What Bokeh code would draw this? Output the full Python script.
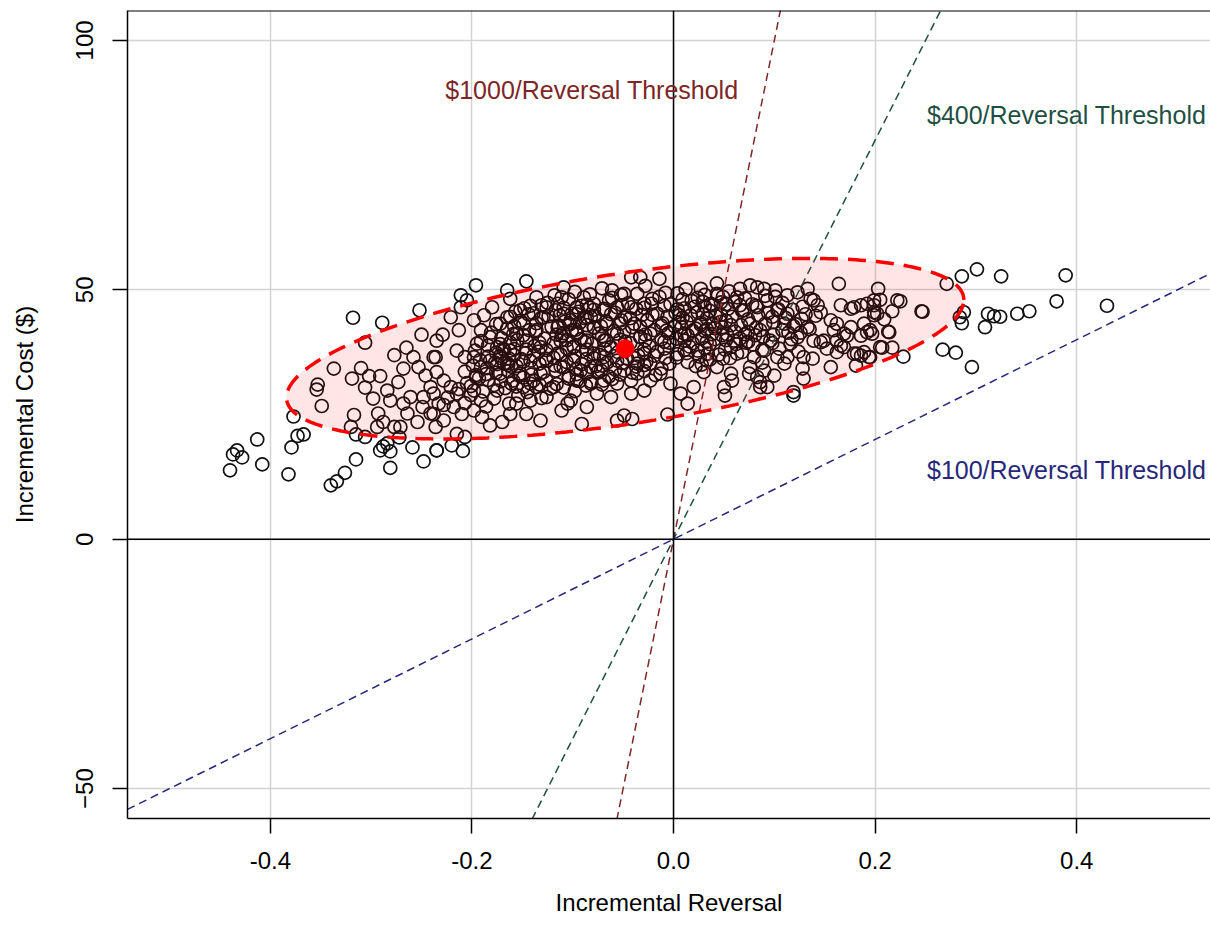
import numpy as np
from bokeh.plotting import figure
from bokeh.models import Span, FixedTicker, Label, Range1d
from bokeh.embed import file_html
from bokeh.resources import INLINE

# ---- bootstrap samples (incremental reversal, incremental cost)
tail_left = [(-0.318,44.4),(-0.289,43.4),(-0.252,45.9),(-0.250,41.0),(-0.306,39.4),(-0.277,36.9),(-0.265,38.4),(-0.337,34.2),(-0.310,34.3),(-0.319,32.2),(-0.302,32.7),(-0.291,32.7),(-0.306,30.4),(-0.353,31.0),(-0.354,30.0),(-0.349,26.7),(-0.377,24.6),(-0.317,24.9),(-0.320,22.5),(-0.315,21.0),(-0.306,20.5),(-0.373,20.7),(-0.367,21.0),(-0.379,18.4),(-0.413,20.0),(-0.433,17.8),(-0.437,17.0),(-0.428,16.4),(-0.408,15.0),(-0.440,13.8),(-0.382,13.0),(-0.315,16.0),(-0.326,13.3),(-0.334,11.6),(-0.340,10.8),(-0.291,17.8),(-0.288,18.6),(-0.284,19.2),(-0.281,17.6),(-0.281,14.3),(-0.259,18.4),(-0.248,15.6),(-0.235,17.8),(-0.272,20.4),(-0.277,22.5),(-0.294,22.5),(-0.288,23.5),(-0.298,28.2),(-0.293,25.2),(-0.281,27.8),(-0.268,27.2),(-0.264,25.2),(-0.271,22.5),(-0.254,23.5),(-0.261,28.5),(-0.248,28.5),(-0.284,29.8),(-0.273,31.5),(-0.268,34.2),(-0.258,36.5),(-0.253,34.5),(-0.246,32.8),(-0.241,30.5),(-0.249,26.5),(-0.241,25.2),(-0.238,36.5),(-0.235,39.8),(-0.236,22.5)]

left_center = [(-0.196,50.9),(-0.146,51.7),(-0.211,48.9),(-0.205,47.9),(-0.211,46.5),(-0.165,49.9),(-0.162,48.2),(-0.221,44.5),(-0.229,41.0),(-0.213,41.9),(-0.215,37.8),(-0.207,36.5),(-0.236,36.5),(-0.235,33.5),(-0.228,31.8),(-0.221,30.5),(-0.215,29.2),(-0.238,29.2),(-0.233,27.2),(-0.218,26.5),(-0.210,25.1),(-0.238,25.1),(-0.228,23.8),(-0.215,21.1),(-0.207,20.5),(-0.235,17.8),(-0.220,18.8),(-0.209,17.7),(-0.198,43.9),(-0.188,44.9),(-0.180,46.5),(-0.191,41.9),(-0.195,39.2),(-0.198,36.5),(-0.191,34.5),(-0.196,32.5),(-0.198,29.8),(-0.191,27.8),(-0.198,25.8),(-0.190,24.5),(-0.182,22.8),(-0.170,23.5),(-0.162,25.1),(-0.156,27.2),(-0.146,25.1),(-0.132,23.8),(-0.142,27.8),(-0.136,30.5),(-0.126,28.5),(-0.111,25.8),(-0.105,27.2),(-0.102,27.8),(-0.091,23.1),(-0.086,26.5),(-0.076,29.2),(-0.062,28.5),(-0.056,23.8),(-0.049,24.8),(-0.041,24.1),(-0.069,31.8),(-0.042,31.8),(-0.029,29.8),(-0.036,33.2),(-0.082,31.2),(-0.096,31.8),(-0.119,30.5),(-0.142,31.2),(-0.149,30.5),(-0.159,31.8),(-0.175,29.8),(-0.172,33.2),(-0.182,35.8),(-0.168,35.2),(-0.162,37.8),(-0.175,38.5),(-0.182,40.5),(-0.172,43.2),(-0.165,44.5),(-0.152,45.9),(-0.149,43.2),(-0.156,41.2),(-0.146,39.8),(-0.142,35.8),(-0.152,33.2),(-0.132,33.2),(-0.126,35.8),(-0.132,38.5),(-0.136,41.9),(-0.129,44.5),(-0.126,46.5),(-0.136,48.5),(-0.109,50.5),(-0.115,47.2),(-0.109,45.2),(-0.115,42.5),(-0.112,39.8),(-0.115,37.2),(-0.109,34.5),(-0.099,35.8),(-0.092,33.8),(-0.099,38.5),(-0.096,41.2),(-0.102,43.9),(-0.096,46.5),(-0.089,48.5),(-0.079,47.2),(-0.086,44.5),(-0.079,42.5),(-0.086,39.8),(-0.079,37.2),(-0.082,34.5),(-0.072,33.8),(-0.069,36.5),(-0.069,39.8),(-0.066,43.2),(-0.069,45.9),(-0.061,49.9),(-0.049,49.2),(-0.042,52.5),(-0.033,52.5),(-0.056,46.5),(-0.042,46.5),(-0.029,47.2),(-0.052,43.9),(-0.039,43.2),(-0.026,43.9),(-0.056,41.2),(-0.033,40.5),(-0.023,41.2),(-0.029,37.2),(-0.023,35.2),(-0.056,35.8),(-0.049,33.8),(-0.036,35.2),(-0.023,31.8),(-0.042,29.2),(-0.056,31.2)]

right_center = [(-0.014,52.2),(0.043,51.3),(0.164,51.2),(0.066,50.2),(0.076,50.9),(0.083,50.5),(0.090,50.2),(0.101,49.9),(0.113,48.9),(0.123,49.5),(0.133,50.2),(0.139,47.9),(0.166,46.9),(0.179,46.5),(0.186,46.9),(0.192,47.2),(0.199,47.9),(0.202,45.2),(0.189,43.2),(0.195,41.9),(0.176,42.5),(0.169,41.2),(0.156,43.9),(0.159,41.9),(0.149,39.8),(0.162,39.8),(0.169,38.5),(0.179,37.2),(0.186,36.8),(0.194,36.5),(0.181,34.8),(0.156,34.5),(0.205,38.5),(0.133,42.5),(0.139,39.8),(0.129,36.5),(0.128,34.2),(0.129,32.2),(0.119,29.5),(0.119,28.8),(0.123,40.5),(0.116,39.2),(0.113,36.5),(0.110,35.2),(0.103,36.5),(0.100,32.8),(0.090,33.8),(0.093,30.5),(0.086,30.5),(0.083,32.5),(0.076,34.5),(0.075,33.2),(0.080,36.5),(0.090,37.8),(0.096,39.8),(0.086,41.9),(0.076,43.2),(0.070,45.9),(0.083,46.5),(0.093,47.9),(0.103,45.9),(0.113,45.2),(0.110,43.2),(0.060,39.8),(0.063,37.2),(0.057,33.2),(0.058,31.8),(0.050,30.5),(0.051,28.8),(0.043,34.5),(0.033,35.8),(0.030,33.5),(0.020,30.5),(0.007,29.2),(0.014,27.2),(-0.003,31.2),(-0.006,25.0),(-0.013,33.2),(0.043,49.2),(0.027,50.2),(0.037,47.2),(0.047,47.5),(0.063,48.5),(0.176,46.2),(0.199,45.5),(0.162,43.2),(0.172,40.8),(0.186,40.8),(0.192,41.5),(0.182,37.2),(0.189,37.5),(0.146,39.5),(0.152,38.2),(0.162,37.5),(0.166,38.8),(0.143,46.9),(0.136,48.2),(0.146,45.5),(0.214,41.5),(0.222,47.9),(0.086,31.5),(0.098,44.6),(0.121,43.1),(0.131,45.1),(0.105,38.2),(0.124,37.6),(0.138,36.2),(0.114,41.4),(0.072,39.4),(0.056,36.3),(0.088,35.4)]

tail_right = [(0.286,52.7),(0.301,54.1),(0.325,52.7),(0.389,52.9),(0.271,51.2),(0.380,47.7),(0.430,46.8),(0.203,50.2),(0.205,48.0),(0.225,47.7),(0.199,46.9),(0.217,45.7),(0.246,45.7),(0.247,45.6),(0.288,45.5),(0.284,44.5),(0.286,43.3),(0.312,45.2),(0.318,44.7),(0.324,44.6),(0.341,45.2),(0.353,45.7),(0.309,42.5),(0.209,44.1),(0.199,44.9),(0.213,41.6),(0.197,41.2),(0.207,38.4),(0.217,38.4),(0.228,36.6),(0.195,36.5),(0.267,38.0),(0.280,37.4),(0.296,34.5)]

dense_core = [(-0.098,49.6),(-0.071,50.3),(-0.052,49.0),(-0.028,50.8),(-0.008,49.4),(0.012,50.1),(0.031,49.0),(0.055,49.7),(0.091,48.8),(-0.118,48.9),
(-0.125,47.4),(-0.104,48.1),(-0.086,47.0),(-0.064,47.9),(-0.045,47.3),(-0.021,48.2),(-0.003,47.1),(0.018,47.8),(0.039,46.9),(0.061,47.6),(0.078,47.1),(0.108,47.4),(-0.142,46.8),
(-0.139,45.3),(-0.117,45.9),(-0.096,45.1),(-0.079,46.0),(-0.058,45.4),(-0.037,46.2),(-0.016,45.2),(0.004,46.1),(0.024,45.5),(0.047,45.0),(0.068,45.8),(0.094,45.3),(0.118,46.0),(-0.157,45.6),
(-0.152,43.8),(-0.131,44.4),(-0.108,43.6),(-0.088,44.3),(-0.067,43.7),(-0.048,44.5),(-0.026,43.9),(-0.006,44.6),(0.013,43.6),(0.033,44.3),(0.052,43.8),(0.074,44.1),(0.099,43.5),(0.127,44.2),
(-0.165,42.2),(-0.143,41.9),(-0.121,42.6),(-0.101,41.8),(-0.079,42.4),(-0.059,41.7),(-0.041,42.5),(-0.019,41.9),(0.001,42.7),(0.019,41.8),(0.041,42.3),(0.061,41.6),(0.082,42.4),(0.108,41.9),(0.135,42.1),
(-0.171,40.3),(-0.149,40.9),(-0.128,40.2),(-0.111,40.8),(-0.092,40.1),(-0.071,40.7),(-0.053,40.0),(-0.033,40.6),(-0.012,40.1),(0.008,40.8),(0.028,40.3),(0.048,40.9),(0.066,40.2),(0.089,40.6),(0.117,40.1),
(-0.184,38.8),(-0.162,39.4),(-0.138,38.7),(-0.119,39.3),(-0.099,38.6),(-0.081,39.2),(-0.062,38.5),(-0.043,39.3),(-0.024,38.7),(-0.004,39.4),(0.016,38.6),(0.036,39.1),(0.057,38.5),(0.079,39.0),
(-0.176,37.4),(-0.158,36.9),(-0.134,37.6),(-0.112,37.0),(-0.091,37.7),(-0.073,36.9),(-0.055,37.5),(-0.035,36.8),(-0.016,37.6),(0.004,37.1),(0.024,37.8),(0.045,37.0),(0.068,37.5),
(-0.192,35.9),(-0.171,36.3),(-0.149,35.6),(-0.127,36.2),(-0.106,35.5),(-0.087,36.1),(-0.066,35.4),(-0.046,36.2),(-0.027,35.6),(-0.008,36.3),(0.014,35.5),(0.036,36.0),
(-0.185,34.3),(-0.164,34.9),(-0.141,34.2),(-0.118,34.8),(-0.097,34.1),(-0.077,34.7),(-0.058,34.0),(-0.037,34.6),(-0.012,34.2),(0.022,34.7),
(-0.196,32.9),(-0.176,33.4),(-0.153,32.8),(-0.129,33.5),(-0.104,32.7),(-0.086,33.3),(-0.064,32.6),(-0.041,33.4),(-0.018,32.9),
(-0.205,31.3),(-0.184,31.9),(-0.161,31.2),(-0.139,31.8),(-0.116,31.1),(-0.093,31.7),(-0.071,31.0),
(-0.213,30.1),(-0.189,29.6),(-0.167,30.3),(-0.145,29.5),(-0.122,30.2),(-0.098,29.7),
(-0.224,28.4),(-0.201,28.9),(-0.178,28.2),(-0.154,28.8),(-0.131,28.3),
(-0.228,26.9),(-0.207,27.3),(-0.186,26.6),(-0.163,27.2),
(-0.172,36.8),(-0.165,35.3),(-0.158,38.1),(-0.151,36.1),(-0.168,37.9),(-0.161,34.6),(-0.147,37.3),(-0.175,35.1),
(-0.113,44.9),(-0.103,43.1),(-0.094,45.6),(-0.086,42.9),(-0.078,44.8),(-0.109,41.3),(-0.097,42.0),(-0.083,46.4),
(-0.031,45.0),(-0.012,42.8),(0.006,44.9),(0.021,46.6),(0.033,42.1),(-0.022,47.2),(0.014,40.9),(0.042,44.7),(-0.005,41.3),(0.027,43.4),(0.048,42.5),(0.038,41.1)]

dense_core_b = [(-0.111,48.5),(-0.083,49.1),(-0.061,48.4),(-0.036,49.2),(-0.014,48.6),(0.004,49.3),(0.024,48.4),(0.044,48.9),(0.071,48.3),(0.101,48.6),
(-0.148,46.3),(-0.131,46.9),(-0.109,46.4),(-0.091,46.8),(-0.069,46.2),(-0.051,46.9),(-0.029,46.4),(-0.009,46.8),(0.011,46.3),(0.031,46.7),(0.054,46.2),(0.082,46.8),(0.104,46.1),(0.128,46.6),
(-0.162,44.6),(-0.144,45.1),(-0.124,44.7),(-0.101,45.2),(-0.082,44.5),(-0.062,45.1),(-0.043,44.3),(-0.021,45.0),(0.009,44.4),(0.029,45.1),(0.058,44.6),(0.084,44.9),(0.111,44.4),(0.141,44.8),
(-0.176,43.1),(-0.158,42.7),(-0.136,43.3),(-0.114,42.8),(-0.093,43.4),(-0.072,42.7),(-0.053,43.2),(-0.033,42.6),(-0.011,43.3),(0.008,42.5),(0.027,43.0),(0.047,43.6),(0.067,42.9),(0.091,43.2),(0.119,42.7),
(-0.181,41.4),(-0.159,41.1),(-0.137,41.6),(-0.116,41.0),(-0.096,41.5),(-0.074,41.2),(-0.049,41.6),(-0.028,41.0),(-0.007,41.8),(0.011,41.2),(0.031,41.7),(0.053,41.1),(0.074,41.5),(0.099,41.0),(0.126,41.4),
(-0.191,39.7),(-0.172,39.1),(-0.155,39.9),(-0.133,39.4),(-0.106,39.9),(-0.088,39.5),(-0.067,39.9),(-0.048,39.6),(-0.028,39.9),(-0.009,39.6),(0.011,39.8),(0.033,39.6),(0.052,39.9),(0.074,39.6),(0.098,39.3),
(-0.197,37.8),(-0.169,38.2),(-0.146,38.0),(-0.126,37.9),(-0.106,38.3),(-0.086,38.0),(-0.068,38.1),(-0.029,38.0),(-0.009,38.2),(0.011,37.9),(0.031,38.3),(0.051,38.0),(0.088,37.9),
(-0.184,36.6),(-0.163,36.2),(-0.139,36.8),(-0.119,36.4),(-0.098,36.7),(-0.079,36.3),(-0.059,36.7),(-0.039,36.3),(-0.019,36.8),(0.003,36.4),(0.026,36.6),(0.049,36.2),
(-0.199,34.8),(-0.177,35.4),(-0.156,34.7),(-0.133,35.2),(-0.112,34.6),(-0.091,35.1),(-0.071,34.8),(-0.051,35.3),(-0.029,34.9),(-0.004,35.2),(0.028,35.0),
(-0.207,33.6),(-0.186,33.1),(-0.164,33.7),(-0.141,33.0),(-0.117,33.8),(-0.096,33.1),(-0.075,33.6),(-0.053,33.0),(-0.029,33.7),
(-0.193,32.3),(-0.171,31.7),(-0.149,32.4),(-0.126,31.8),(-0.104,32.2),(-0.082,31.6),(-0.061,32.1),
(-0.201,30.7),(-0.178,30.9),(-0.156,30.6),(-0.133,31.0),(-0.109,30.4),(-0.087,30.8)]

core_right = [(0.002,45.4),(0.017,44.9),(0.036,45.8),(0.052,47.1),(0.066,46.9),(0.006,43.4),(0.022,42.2),(0.039,43.1),(0.057,42.9),(0.071,41.1),(0.003,40.2),(0.019,39.3),(0.041,40.1),(0.062,39.1),(0.081,40.9),(0.009,48.1),(0.029,47.6),(0.049,48.6),(0.013,37.3),(0.034,37.2)]

samples = tail_left + left_center + dense_core + dense_core_b + core_right + right_center + tail_right
incr_reversal = [s[0] for s in samples]
incr_cost = [s[1] for s in samples]

mean_reversal = -0.048
mean_cost = 38.2

# confidence ellipse: half-extent in x, half-extent in y, correlation
ell_half_x = 0.336
ell_half_y = 18.1
ell_rho = 0.54

thresholds = [1000, 400, 100]
threshold_colors = ["#7E2626", "#1E4F43", "#27277A"]
threshold_text = ["$1000/Reversal Threshold", "$400/Reversal Threshold", "$100/Reversal Threshold"]
threshold_label_x = [-0.081, 0.390, 0.390]
threshold_label_y = [90.0, 85.0, 13.9]

x_ticks = [-0.4, -0.2, 0.0, 0.2, 0.4]
y_ticks = [-50, 0, 50, 100]
x_lim = (-0.5417, 0.5327)
y_lim = (-56.0, 106.0)

FONT = "Liberation Sans"

p = figure(width=1210, height=937, output_backend="svg", toolbar_location=None,
           x_range=Range1d(*x_lim), y_range=Range1d(*y_lim),
           min_border_left=127, min_border_right=0, min_border_top=10, min_border_bottom=119)
p.outline_line_color = None
p.background_fill_color = "white"
p.border_fill_color = "white"

for ax in (p.xaxis[0], p.yaxis[0]):
    ax.axis_line_color = "black"
    ax.axis_line_width = 1.5
    ax.major_tick_line_color = "black"
    ax.major_tick_line_width = 1.5
    ax.major_tick_out = 15
    ax.major_tick_in = 0
    ax.minor_tick_line_color = None
    ax.major_label_text_font = FONT
    ax.major_label_text_font_size = "24px"
    ax.major_label_text_color = "black"
    ax.axis_label_text_font = FONT
    ax.axis_label_text_font_size = "24px"
    ax.axis_label_text_font_style = "normal"
    ax.axis_label_text_color = "black"

p.xaxis.ticker = FixedTicker(ticks=x_ticks)
p.yaxis.ticker = FixedTicker(ticks=y_ticks)
p.xaxis.major_label_overrides = {-0.4: "-0.4", -0.2: "-0.2", 0.0: "0.0", 0.2: "0.2", 0.4: "0.4"}
p.yaxis.major_label_orientation = "vertical"
p.xaxis.axis_label = "Incremental Reversal"
p.yaxis.axis_label = "Incremental Cost ($)"
p.xaxis.major_label_standoff = 18
p.yaxis.major_label_standoff = 19
p.xaxis.axis_label_standoff = 17
p.yaxis.axis_label_standoff = 36

p.grid.grid_line_color = "#D3D3D3"
p.grid.grid_line_width = 1.5

# top frame line
p.add_layout(Span(location=y_lim[1], dimension="width", line_color="black", line_width=2))

# scatter of samples
p.scatter(incr_reversal, incr_cost, size=13, marker="circle", fill_color=None,
          line_color="#111111", line_width=1.7)

# zero axes
p.add_layout(Span(location=0, dimension="height", line_color="black", line_width=1.5))
p.add_layout(Span(location=0, dimension="width", line_color="black", line_width=1.5))

# threshold lines through the origin
for k, c in zip(thresholds, threshold_colors):
    xs = [x_lim[0], x_lim[1]]
    p.line(xs, [k * x for x in xs], line_color=c, line_width=1.5, line_dash="8 5")

# confidence ellipse
t = np.linspace(0, 2 * np.pi, 361)
ex = mean_reversal + ell_half_x * np.cos(t)
ey = mean_cost + ell_half_y * (ell_rho * np.cos(t) + np.sqrt(1 - ell_rho ** 2) * np.sin(t))
p.patch(ex, ey, fill_color="red", fill_alpha=0.1, line_color=None)
p.line(ex, ey, line_color="#FF0000", line_width=3.5, line_dash="18 10")

# mean point
p.scatter([mean_reversal], [mean_cost], size=18, marker="circle", fill_color="#FF0000",
          line_color="#FF0000")

for tx, lx, ly, c in zip(threshold_text, threshold_label_x, threshold_label_y, threshold_colors):
    p.add_layout(Label(x=lx, y=ly, text=tx, text_align="center", text_baseline="alphabetic",
                       text_font=FONT, text_font_size="25px", text_color=c))

open("out.html", "w").write(file_html(p, INLINE))
